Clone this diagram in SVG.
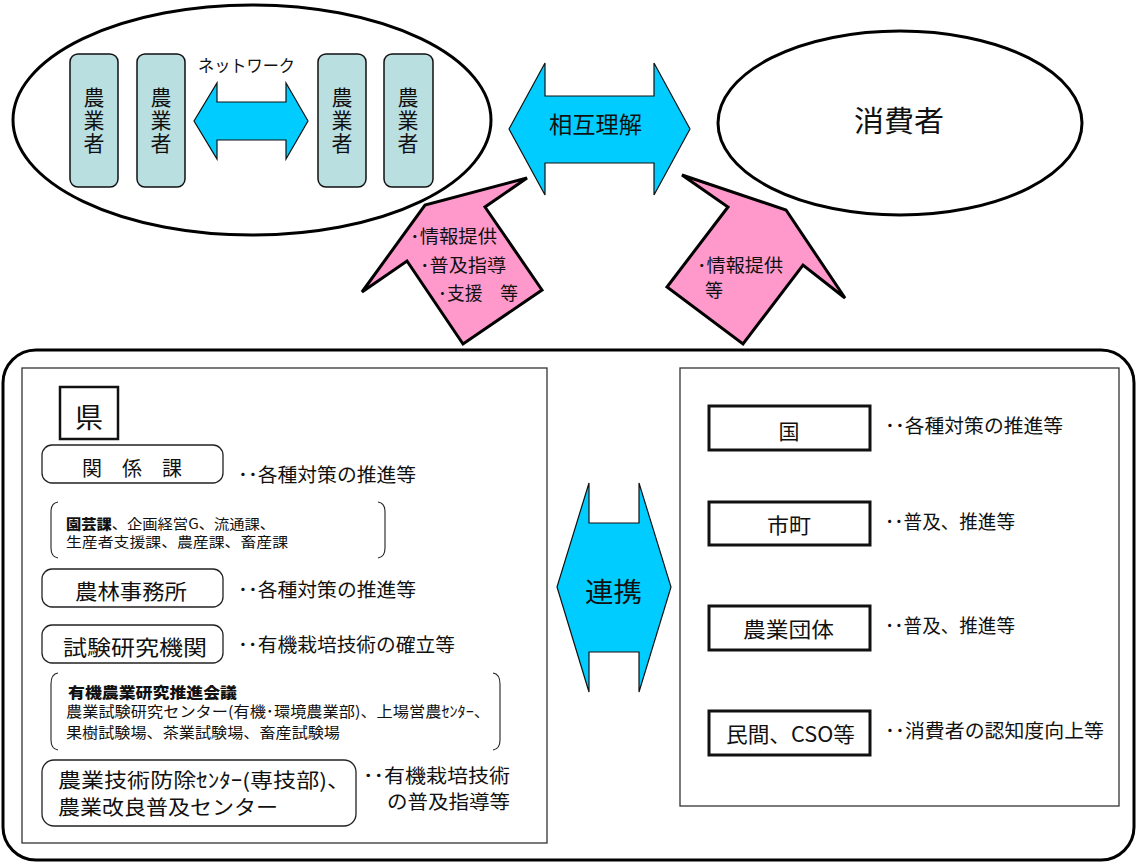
<svg xmlns="http://www.w3.org/2000/svg" width="1136" height="863" viewBox="0 0 1136 863">
<style>
text{font-family:"Noto Sans CJK JP","Noto Sans CJK SC",sans-serif;fill:#111;}
.farmer{fill:#b9dfe1;stroke:#111;stroke-width:1.5;}
.cyan{fill:#00ccff;stroke:#111;stroke-width:1.2;stroke-linejoin:miter;}
.pink{fill:#ff99cc;stroke:#000;stroke-width:3;stroke-linejoin:miter;}
.ell{fill:#fff;stroke:#000;stroke-width:3;}
.rbox{fill:#fff;stroke:#222;stroke-width:1.3;}
.sbox{fill:#fff;stroke:#111;stroke-width:3;}
.thin{fill:none;stroke:#333;stroke-width:1.3;}
.brk{fill:none;stroke:#222;stroke-width:1.1;}
.v{font-size:21px;writing-mode:vertical-rl;text-orientation:upright;letter-spacing:2px;}
.c{text-anchor:middle;}
</style>

<!-- outer frame -->
<g id="frame">
<rect x="3" y="350" width="1131" height="510" rx="33" fill="#fff" stroke="#000" stroke-width="3"/>
<rect class="thin" x="22" y="368" width="525" height="475"/>
<rect class="thin" x="680" y="368" width="439" height="438"/>
</g>

<!-- farmers ellipse -->
<g id="farmers">
<ellipse class="ell" cx="252" cy="120" rx="239" ry="115"/>
<g id="farmer1"><rect class="farmer" x="70" y="54" width="48" height="133" rx="8"/>
<text class="v" x="94" y="87">農業者</text></g>
<g id="farmer2"><rect class="farmer" x="137" y="54" width="48" height="133" rx="8"/>
<text class="v" x="161" y="87">農業者</text></g>
<g id="farmer3"><rect class="farmer" x="318" y="54" width="48" height="133" rx="8"/>
<text class="v" x="342" y="87">農業者</text></g>
<g id="farmer4"><rect class="farmer" x="384" y="54" width="49" height="133" rx="8"/>
<text class="v" x="408" y="87">農業者</text></g>
<text x="198" y="72" font-size="17" textLength="97" lengthAdjust="spacingAndGlyphs">ネットワーク</text>
</g>

<!-- consumers -->
<g id="consumers">
<ellipse class="ell" cx="900" cy="123" rx="182" ry="92"/>
<text x="854" y="132" font-size="29" textLength="90" lengthAdjust="spacingAndGlyphs">消費者</text>
</g>

<!-- connectors (arrows) -->
<g id="connectors">
<polygon class="cyan" points="194,121 217,83 217,102 286,102 286,83 308,121 286,159 286,140 217,140 217,159"/>
<polygon class="cyan" points="509,129 545,63 545,96 654,96 654,63 690,129 654,195 654,163 545,163 545,195"/>
<text x="549" y="133" font-size="23" textLength="93" lengthAdjust="spacingAndGlyphs">相互理解</text>
<polygon class="pink" points="527,178 485,207 542,290 463,344 407,261 362,292 425,205"/>
<text x="410" y="243" font-size="18" textLength="87" lengthAdjust="spacingAndGlyphs">･情報提供</text>
<text x="420" y="272" font-size="18" textLength="86" lengthAdjust="spacingAndGlyphs">･普及指導</text>
<text x="438" y="300" font-size="18" textLength="80" lengthAdjust="spacingAndGlyphs">･支援　等</text>
<polygon class="pink" points="682,175 728,207 667,287 743,344 803,265 845,298 786,210"/>
<text x="697" y="272" font-size="18" textLength="86" lengthAdjust="spacingAndGlyphs">･情報提供</text>
<text x="705" y="297" font-size="18">等</text>
<polygon class="cyan" points="589,483 589,523 639,523 639,483 671,587 639,692 639,652 589,652 589,692 557,587"/>
<text x="585" y="602" font-size="27" textLength="57" lengthAdjust="spacingAndGlyphs">連携</text>
</g>

<!-- prefecture side -->
<g id="ken">
<rect x="60" y="387" width="58" height="52" fill="#fff" stroke="#111" stroke-width="2.5"/>
<text x="89" y="428" font-size="28" class="c">県</text>
</g>
<g id="kankeika">
<rect class="rbox" x="42" y="445" width="181" height="38" rx="10"/>
<text x="82" y="476" font-size="20" textLength="100" lengthAdjust="spacingAndGlyphs">関　係　課</text>
<text x="238" y="482" font-size="19" textLength="178" lengthAdjust="spacingAndGlyphs">･･各種対策の推進等</text>
</g>
<g id="kakarika-list">
<path class="brk" d="M58,502 Q51,503 51,512 L51,548 Q51,557 58,558"/>
<path class="brk" d="M378,502 Q385,503 385,512 L385,548 Q385,557 378,558"/>
<text x="66" y="529" font-size="14" textLength="209" lengthAdjust="spacingAndGlyphs"><tspan font-weight="900">園芸課</tspan>、企画経営G、流通課、</text>
<text x="66" y="547" font-size="14" textLength="222" lengthAdjust="spacingAndGlyphs">生産者支援課、農産課、畜産課</text>
</g>
<g id="norin">
<rect class="rbox" x="42" y="569" width="181" height="38" rx="10"/>
<text x="75" y="599" font-size="21" textLength="112" lengthAdjust="spacingAndGlyphs">農林事務所</text>
<text x="238" y="597" font-size="19" textLength="178" lengthAdjust="spacingAndGlyphs">･･各種対策の推進等</text>
</g>
<g id="shiken">
<rect class="rbox" x="42" y="625" width="181" height="38" rx="10"/>
<text x="63" y="655" font-size="21" textLength="144" lengthAdjust="spacingAndGlyphs">試験研究機関</text>
<text x="238" y="652" font-size="19" textLength="217" lengthAdjust="spacingAndGlyphs">･･有機栽培技術の確立等</text>
</g>
<g id="kaigi">
<path class="brk" d="M58,673 Q51,674 51,684 L51,740 Q51,749 58,750"/>
<path class="brk" d="M493,673 Q500,674 500,684 L500,740 Q500,749 493,750"/>
<text x="68" y="698" font-size="15" font-weight="900" textLength="169" lengthAdjust="spacingAndGlyphs">有機農業研究推進会議</text>
<text x="66" y="717" font-size="15" textLength="424" lengthAdjust="spacingAndGlyphs">農業試験研究センター(有機･環境農業部)、上場営農ｾﾝﾀｰ、</text>
<text x="66" y="738" font-size="15" textLength="274" lengthAdjust="spacingAndGlyphs">果樹試験場、茶業試験場、畜産試験場</text>
</g>
<g id="fukyu">
<rect class="rbox" x="42" y="760" width="314" height="66" rx="12"/>
<text x="58" y="788" font-size="20" textLength="292" lengthAdjust="spacingAndGlyphs">農業技術防除ｾﾝﾀｰ(専技部)、</text>
<text x="58" y="815" font-size="20" textLength="220" lengthAdjust="spacingAndGlyphs">農業改良普及センター</text>
<text x="363" y="783" font-size="19" textLength="147" lengthAdjust="spacingAndGlyphs">･･有機栽培技術</text>
<text x="387" y="809" font-size="19" textLength="123" lengthAdjust="spacingAndGlyphs">の普及指導等</text>
</g>

<!-- right side -->
<g id="kuni">
<rect class="sbox" x="709" y="406" width="161" height="44"/>
<text x="789" y="439" font-size="21" class="c">国</text>
<text x="885" y="433" font-size="19" textLength="178" lengthAdjust="spacingAndGlyphs">･･各種対策の推進等</text>
</g>
<g id="shicho">
<rect class="sbox" x="709" y="502" width="161" height="43"/>
<text x="767" y="533" font-size="21" textLength="44" lengthAdjust="spacingAndGlyphs">市町</text>
<text x="885" y="529" font-size="19" textLength="130" lengthAdjust="spacingAndGlyphs">･･普及、推進等</text>
</g>
<g id="dantai">
<rect class="sbox" x="709" y="606" width="161" height="44"/>
<text x="743" y="637" font-size="21" textLength="91" lengthAdjust="spacingAndGlyphs">農業団体</text>
<text x="885" y="633" font-size="19" textLength="130" lengthAdjust="spacingAndGlyphs">･･普及、推進等</text>
</g>
<g id="minkan">
<rect class="sbox" x="709" y="711" width="161" height="44"/>
<text x="726" y="742" font-size="21" textLength="129" lengthAdjust="spacingAndGlyphs">民間、CSO等</text>
<text x="885" y="738" font-size="19" textLength="219" lengthAdjust="spacingAndGlyphs">･･消費者の認知度向上等</text>
</g>
</svg>
